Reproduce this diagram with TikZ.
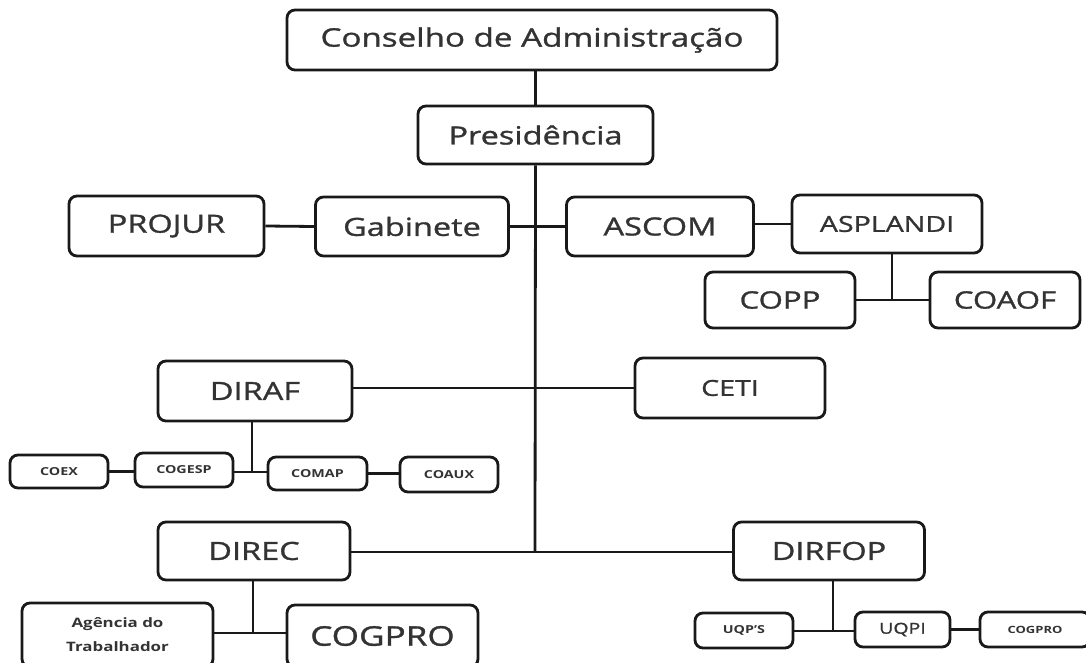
\documentclass[tikz,border=0pt]{standalone}
\usepackage{fontspec}
\setmainfont{Open Sans}[FakeStretch=1.3]
\newfontfamily\semi{Open Sans}[FakeStretch=1.3,FakeBold=1.2]
\begin{document}
\begin{tikzpicture}[x=1pt,y=-1pt,
  box/.style={draw=black!90, line width=2.8pt, rounded corners=8pt, inner sep=0pt, align=center, text=black!80},
  conn/.style={draw=black!90, line width=2.8pt},
  big/.style={font=\semi\fontsize{25}{28}\selectfont},
  small/.style={font=\fontsize{11}{13}\selectfont\bfseries},
]
\useasboundingbox (0,0) rectangle (1086,663);
% nodes
\node[box,font=\semi\fontsize{25.5}{28}\selectfont,minimum width=490pt,minimum height=60pt] (cons) at (532,40) {Conselho de Administração};
\node[box,big,minimum width=235pt,minimum height=58pt] (pres) at (535.5,135) {Presidência};
\node[box,big,minimum width=195pt,minimum height=60pt] (projur) at (166.5,226) {PROJUR};
\node[box,big,minimum width=193pt,minimum height=59pt] (gab) at (412,226.5) {Gabinete};
\node[box,big,minimum width=187pt,minimum height=59pt] (ascom) at (660,226.5) {ASCOM};
\node[box,font=\semi\fontsize{22}{26}\selectfont,minimum width=190pt,minimum height=58pt] (aspl) at (887,224) {ASPLANDI};
\node[box,font=\semi\fontsize{24}{28}\selectfont,minimum width=150pt,minimum height=56pt] (copp) at (780,300) {COPP};
\node[box,font=\semi\fontsize{24}{28}\selectfont,minimum width=150pt,minimum height=56pt] (coaof) at (1005,300) {COAOF};
\node[box,big,minimum width=194pt,minimum height=60pt] (diraf) at (255,391) {DIRAF};
\node[box,font=\semi\fontsize{22}{26}\selectfont,minimum width=190pt,minimum height=60pt] (ceti) at (730,388) {CETI};
\node[box,small,minimum width=98pt,minimum height=33pt] (coex) at (59,471.5) {COEX};
\node[box,small,minimum width=98pt,minimum height=34pt] (cogesp) at (184,470) {COGESP};
\node[box,small,minimum width=99pt,minimum height=33pt] (comap) at (317.5,473.5) {COMAP};
\node[box,small,minimum width=98pt,minimum height=35pt] (coaux) at (449,474.5) {COAUX};
\node[box,big,minimum width=192pt,minimum height=58pt] (direc) at (254,551) {DIREC};
\node[box,big,minimum width=191pt,minimum height=58pt] (dirfop) at (829,551) {DIRFOP};
\node[box,font=\fontsize{13}{24}\selectfont\bfseries,minimum width=191pt,minimum height=64pt] (agencia) at (117.5,635) {Agência do\\Trabalhador};
\node[box,font=\semi\fontsize{27}{30}\selectfont,minimum width=191pt,minimum height=62pt] (cogpro) at (382.5,636) {COGPRO};
\node[box,small,minimum width=98pt,minimum height=35pt] (uqps) at (744,630.5) {UQP'S};
\node[box,font=\semi\fontsize{15}{18}\selectfont,minimum width=95pt,minimum height=35pt] (uqpi) at (902.5,629.5) {UQPI};
\node[box,font=\fontsize{10}{12}\selectfont\bfseries,minimum width=110pt,minimum height=35pt] (cogpro2) at (1035,629.5) {COGPRO};
% junction coordinates
\coordinate (jtop) at (535,552);
\coordinate (jaspl) at (892,300);
\coordinate (jdiraf) at (252,472);
\coordinate (jdirec) at (253,633);
\coordinate (jdirfop) at (833,631);
% connectors
\draw[conn] (pres.north) -- (pres.north |- cons.south);
\draw[conn] (pres.south) -- (jtop);
\draw[conn] (projur.east) -- (gab.west);
\draw[conn] (gab.east) -- (ascom.west);
\draw[conn] (ascom.east |- aspl.west) -- (aspl.west);
\draw[conn] (jaspl |- aspl.south) -- (jaspl);
\draw[conn] (copp.east |- jaspl) -- (coaof.west |- jaspl);
\draw[conn] (diraf.east |- ceti.west) -- (ceti.west);
\draw[conn] (jdiraf |- diraf.south) -- (jdiraf);
\draw[conn] (cogesp.east |- jdiraf) -- (comap.west |- jdiraf);
\draw[conn] (coex.east) -- (cogesp.west |- coex.east);
\draw[conn] (comap.east) -- (coaux.west |- comap.east);
\draw[conn] (direc.east |- jtop) -- (dirfop.west |- jtop);
\draw[conn] (jdirec |- direc.south) -- (jdirec);
\draw[conn] (agencia.east |- jdirec) -- (cogpro.west |- jdirec);
\draw[conn] (jdirfop |- dirfop.south) -- (jdirfop);
\draw[conn] (uqps.east |- jdirfop) -- (uqpi.west |- jdirfop);
\draw[conn] (uqpi.east) -- (cogpro2.west);
\end{tikzpicture}
\end{document}
